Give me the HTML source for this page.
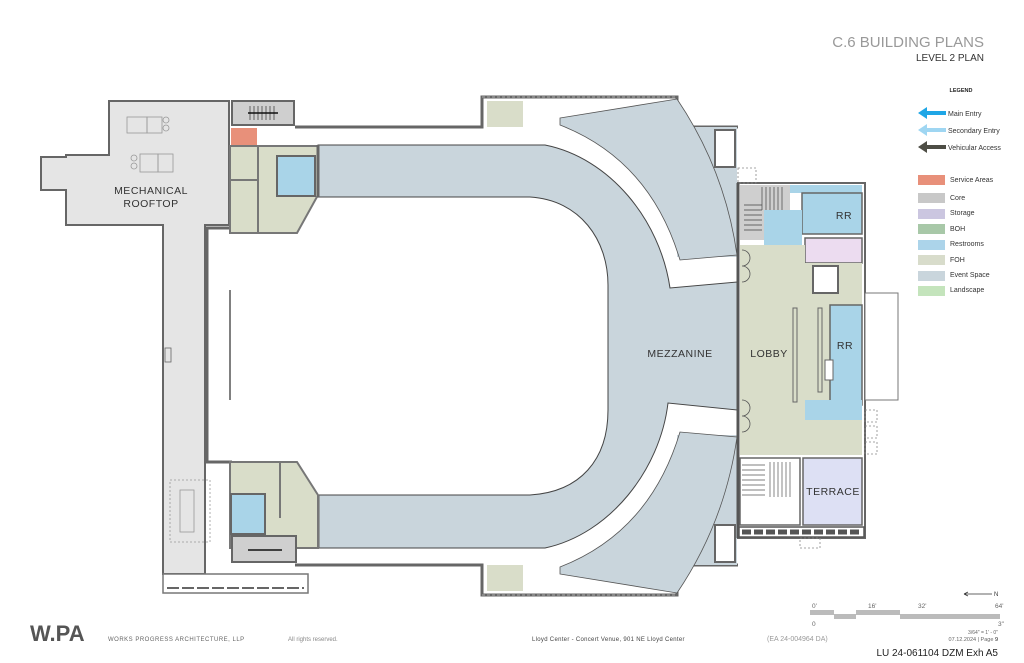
<!DOCTYPE html>
<html><head><meta charset="utf-8"><style>
html,body{margin:0;padding:0;background:#fff}
body{width:1024px;height:663px;overflow:hidden;position:relative;font-family:"Liberation Sans",sans-serif}
.t{position:absolute;white-space:nowrap}
</style></head><body>
<svg width="1024" height="663" style="position:absolute;left:0;top:0" font-family="Liberation Sans, sans-serif">
<!-- mechanical rooftop -->
<path d="M109,101 H229 V225 H205 V574 H163 V225 H66 V190 H41 V157 H66 V155 H109 Z" fill="#e5e5e5" stroke="#666" stroke-width="2"/>
<rect x="163" y="574" width="145" height="19" fill="#fff" stroke="#777" stroke-width="1.5"/>
<path d="M167,588 H304" stroke="#666" stroke-width="2" stroke-dasharray="12,3"/>
<g stroke="#999" fill="none" stroke-width="0.8">
<rect x="127" y="117" width="20" height="16"/><rect x="147" y="117" width="15" height="16"/>
<circle cx="166" cy="120" r="3"/><circle cx="166" cy="128" r="3"/>
<circle cx="134" cy="158" r="3"/><circle cx="134" cy="166" r="3"/>
<rect x="140" y="154" width="18" height="18"/><rect x="158" y="154" width="15" height="18"/>
<rect x="180" y="490" width="14" height="42"/><rect x="170" y="480" width="40" height="62" stroke-dasharray="2,2"/>
<line x1="230" y1="290" x2="230" y2="400" stroke="#555" stroke-width="1.5"/>
<rect x="165" y="348" width="6" height="14" stroke="#666"/>
</g>
<!-- upper-left rooms -->
<rect x="232" y="101" width="62" height="24" fill="#cfcfcf" stroke="#666" stroke-width="2"/>
<g stroke="#333" stroke-width="0.7"><path d="M250,106 V120 M254,106 V120 M258,106 V120 M262,106 V120 M266,106 V120 M270,106 V120 M274,106 V120"/></g>
<line x1="248" y1="113" x2="278" y2="113" stroke="#111" stroke-width="1.5"/>
<rect x="231" y="128" width="26" height="18" fill="#e8907a"/>
<path d="M230,146 H318 V195 L297,233 H230 Z" fill="#d9ddc9" stroke="#777" stroke-width="2"/>
<line x1="258" y1="146" x2="258" y2="233" stroke="#777" stroke-width="2"/>
<line x1="231" y1="180" x2="258" y2="180" stroke="#777" stroke-width="2"/>
<rect x="277" y="156" width="38" height="40" fill="#a9d4e8" stroke="#666" stroke-width="2"/>
<!-- walls top -->
<path d="M295,127 H482 V97 H677 V127 H738" fill="none" stroke="#666" stroke-width="3"/>
<path d="M482,97 H677" stroke="#888" stroke-width="2" stroke-dasharray="3,2"/>
<rect x="487" y="101" width="36" height="26" fill="#d9ddc9"/>
<path d="M295,565 H482 V595 H677 V565 H738" fill="none" stroke="#666" stroke-width="3"/>
<path d="M482,595 H677" stroke="#888" stroke-width="2" stroke-dasharray="3,2"/>
<rect x="487" y="565" width="36" height="26" fill="#d9ddc9"/>
<!-- left arena wall -->
<path d="M229,228 H207 V462 H232" fill="none" stroke="#666" stroke-width="3"/>
<!-- event space -->
<rect x="677" y="127" width="60" height="130" fill="#c9d5dc"/>
<rect x="677" y="435" width="60" height="130" fill="#c9d5dc"/>
<rect x="715" y="130" width="20" height="37" fill="#fff" stroke="#666" stroke-width="2"/>
<rect x="715" y="525" width="20" height="37" fill="#fff" stroke="#666" stroke-width="2"/>
<path d="M560,118 L677,99 Q725,170 737,255 L680,260 Q650,160 560,125 Z" fill="#c9d5dc" stroke="#555" stroke-width="0.8"/>
<path d="M560,574 L677,593 Q725,522 737,437 L680,432 Q650,532 560,567 Z" fill="#c9d5dc" stroke="#555" stroke-width="0.8"/>
<path d="M318,145 H545 C610,158 660,220 670,288 L737,282 V410 L668,403 C660,470 610,534 545,548 H318 V495 H530 C580,492 608,460 608,410 V285 C608,240 580,200 530,197 H318 Z" fill="#c9d5dc" stroke="#444" stroke-width="1"/>
<line x1="318" y1="145" x2="318" y2="197" stroke="#666" stroke-width="3"/>
<line x1="318" y1="495" x2="318" y2="548" stroke="#666" stroke-width="3"/>
<!-- bottom-left rooms -->
<path d="M230,462 H297 L318,495 V548 H230 Z" fill="#d9ddc9" stroke="#777" stroke-width="2"/>
<line x1="280" y1="462" x2="280" y2="518" stroke="#777" stroke-width="2"/>
<rect x="231" y="494" width="34" height="40" fill="#a9d4e8" stroke="#666" stroke-width="2"/>
<rect x="232" y="536" width="64" height="26" fill="#cfcfcf" stroke="#666" stroke-width="2"/>
<line x1="248" y1="550" x2="282" y2="550" stroke="#111" stroke-width="1.5"/>
<!-- right building -->
<rect x="738" y="183" width="127" height="355" fill="#fff" stroke="#666" stroke-width="2"/>
<rect x="740" y="185" width="50" height="55" fill="#cfcfcf"/>
<g stroke="#444" stroke-width="0.7"><path d="M762,187 V210 M766,187 V210 M770,187 V210 M774,187 V210 M778,187 V210 M782,187 V210 M744,205 H762 M744,210 H762 M744,215 H762 M744,220 H762 M744,225 H762 M744,230 H762"/></g>
<rect x="790" y="185" width="72" height="8" fill="#a9d4e8"/>
<rect x="802" y="193" width="60" height="41" fill="#a9d4e8" stroke="#666" stroke-width="1.5"/>
<rect x="764" y="210" width="38" height="36" fill="#a9d4e8"/>
<rect x="805" y="238" width="57" height="25" fill="#ecdcf0" stroke="#666" stroke-width="1.5"/>
<path d="M740,245 H805 V263 H862 V455 H740 Z" fill="#d9ddc9"/>
<rect x="813" y="266" width="25" height="27" fill="#fff" stroke="#666" stroke-width="2"/>
<rect x="830" y="305" width="32" height="100" fill="#a9d4e8" stroke="#666" stroke-width="1.5"/>
<rect x="805" y="400" width="57" height="20" fill="#a9d4e8"/>
<path d="M793,308 H797 V402 H793 Z M818,308 H822 V392 H818 Z" fill="none" stroke="#666" stroke-width="1"/>
<rect x="825" y="360" width="8" height="20" fill="#fff" stroke="#666"/>
<rect x="740" y="458" width="60" height="67" fill="#fff" stroke="#666" stroke-width="1.5"/>
<g stroke="#555" stroke-width="0.7"><path d="M742,465 H765 M742,470 H765 M742,475 H765 M742,480 H765 M742,485 H765 M742,490 H765 M742,495 H765 M770,462 V497 M774,462 V497 M778,462 V497 M782,462 V497 M786,462 V497 M790,462 V497"/></g>
<rect x="803" y="458" width="59" height="67" fill="#dde0f4" stroke="#666" stroke-width="1.5"/>
<rect x="739" y="527" width="125" height="10" fill="#fff" stroke="#555" stroke-width="1.5"/>
<path d="M742,532 H862" stroke="#555" stroke-width="5" stroke-dasharray="9,3"/>
<line x1="738" y1="183" x2="738" y2="538" stroke="#555" stroke-width="3"/>
<rect x="865" y="293" width="33" height="107" fill="#fff" stroke="#777" stroke-width="1"/>
<g fill="none" stroke="#888" stroke-dasharray="2,2" stroke-width="0.8">
<rect x="738" y="168" width="18" height="15"/><rect x="865" y="410" width="12" height="12"/><rect x="865" y="426" width="12" height="12"/><rect x="865" y="442" width="12" height="12"/><rect x="800" y="538" width="20" height="10"/>
</g>
<g fill="none" stroke="#555" stroke-width="0.8"><path d="M742,250 a8,8 0 0 1 0,16 M742,266 a8,8 0 0 1 0,16 M742,400 a8,8 0 0 1 0,16 M742,416 a8,8 0 0 1 0,16"/></g>
<!-- labels -->
<g fill="#333" font-size="10.5" letter-spacing="0.5">
<text x="151" y="194" text-anchor="middle">MECHANICAL</text>
<text x="151" y="207" text-anchor="middle">ROOFTOP</text>
<text x="680" y="357" text-anchor="middle">MEZZANINE</text>
<text x="769" y="357" text-anchor="middle">LOBBY</text>
<text x="844" y="219" text-anchor="middle">RR</text>
<text x="845" y="349" text-anchor="middle">RR</text>
<text x="833" y="495" text-anchor="middle">TERRACE</text>
</g>
<!-- legend -->
<text x="984" y="47" text-anchor="end" font-size="15" fill="#999">C.6 BUILDING PLANS</text>
<text x="984" y="61" text-anchor="end" font-size="10" fill="#333">LEVEL 2 PLAN</text>
<text x="961" y="92" text-anchor="middle" font-size="5.5" font-weight="bold" fill="#222">LEGEND</text>
<g stroke-width="4"><path d="M927,113 H946" stroke="#1fa6e6"/><path d="M927,130 H946" stroke="#9fd6f2"/><path d="M927,147 H946" stroke="#4d4d45"/></g>
<path d="M918,113 L927,107 V119 Z" fill="#1fa6e6"/><path d="M918,130 L927,124 V136 Z" fill="#9fd6f2"/><path d="M918,147 L927,141 V153 Z" fill="#4d4d45"/>
<g font-size="7" fill="#333"><text x="948" y="116">Main Entry</text><text x="948" y="133">Secondary Entry</text><text x="948" y="150">Vehicular Access</text>
<rect x="918" y="175" width="27" height="10" fill="#e8907a"/><text x="950" y="182">Service Areas</text>
<rect x="918" y="193" width="27" height="10" fill="#c8c8c8"/><text x="950" y="200">Core</text>
<rect x="918" y="209" width="27" height="10" fill="#cbc6e0"/><text x="950" y="215">Storage</text>
<rect x="918" y="224" width="27" height="10" fill="#a8c8a8"/><text x="950" y="231">BOH</text>
<rect x="918" y="240" width="27" height="10" fill="#acd4ea"/><text x="950" y="246">Restrooms</text>
<rect x="918" y="255" width="27" height="10" fill="#d8dccb"/><text x="950" y="262">FOH</text>
<rect x="918" y="271" width="27" height="10" fill="#c9d5dc"/><text x="950" y="277">Event Space</text>
<rect x="918" y="286" width="27" height="10" fill="#c4e4bc"/><text x="950" y="292">Landscape</text></g>
<!-- scale -->
<path d="M964,594 H992 M964,594 l4,-2 M964,594 l4,2" stroke="#333" stroke-width="0.8" fill="none"/>
<text x="994" y="596" font-size="6" fill="#333">N</text>
<g font-size="6.5" fill="#666"><text x="812" y="608">0'</text><text x="868" y="608">16'</text><text x="918" y="608">32'</text><text x="995" y="608">64'</text>
<text x="812" y="626">0</text><text x="998" y="626">3"</text>
<text x="998" y="634" text-anchor="end" font-size="5">3/64" = 1' - 0"</text>
<text x="998" y="641" text-anchor="end" font-size="5.5">07.12.2024  |  Page <tspan fill="#111">9</tspan></text></g>
<g fill="#bbb"><rect x="810" y="610" width="24" height="5"/><rect x="834" y="614" width="22" height="5"/><rect x="856" y="610" width="44" height="5"/><rect x="900" y="614" width="100" height="5"/></g>
<text x="998" y="656" text-anchor="end" font-size="10" fill="#222">LU 24-061104 DZM    Exh A5</text>
<text x="30" y="641" font-size="22" font-weight="bold" fill="#555">W.PA</text>
<text x="108" y="641" font-size="6" fill="#666" letter-spacing="0.5">WORKS PROGRESS ARCHITECTURE, LLP</text>
<text x="288" y="641" font-size="6" fill="#888">All rights reserved.</text>
<text x="532" y="641" font-size="6" fill="#444" letter-spacing="0.3">Lloyd Center - Concert Venue, 901 NE Lloyd Center</text>
<text x="767" y="641" font-size="7" fill="#999">(EA 24-004964 DA)</text>
</svg>
</body></html>
